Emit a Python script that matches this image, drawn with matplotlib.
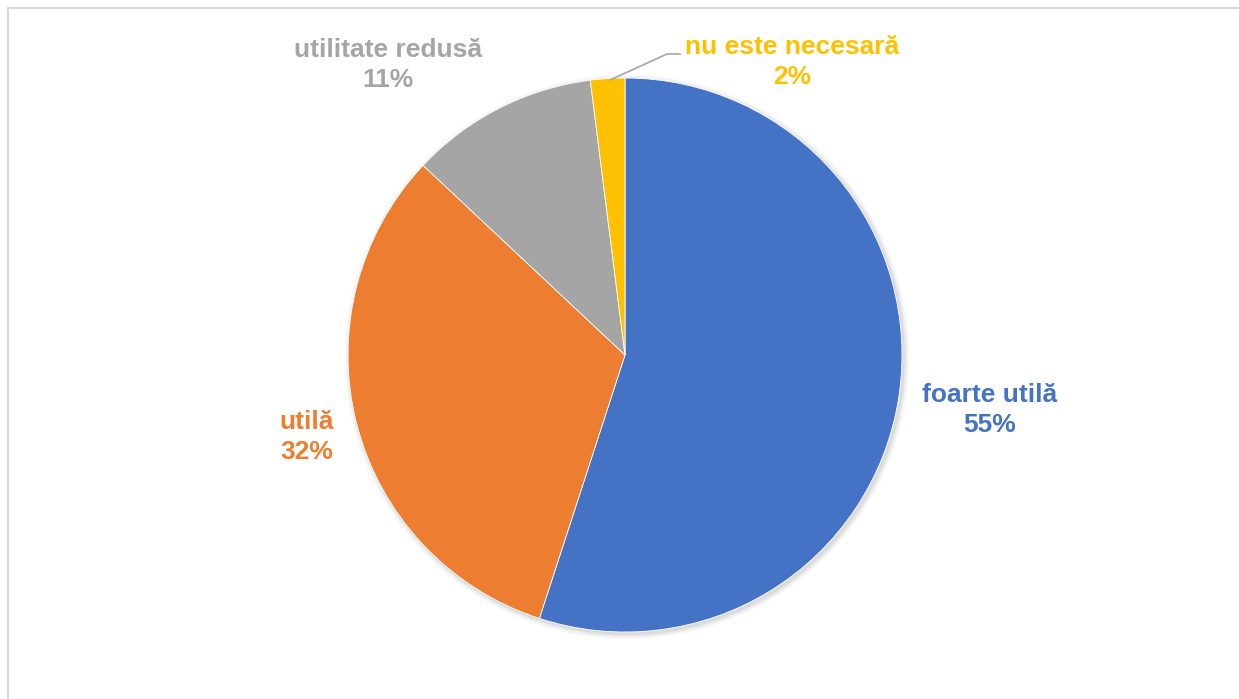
import matplotlib.pyplot as plt
from matplotlib.patches import Rectangle, Circle

labels = ['foarte utilă', 'utilă', 'utilitate redusă', 'nu este necesară']
values = [55, 32, 11, 2]
colors = ['#4472C4', '#ED7D31', '#A5A5A5', '#FFC000']

plt.rcParams['font.family'] = ['Liberation Sans', 'DejaVu Sans']

W, H = 1239, 699
fig = plt.figure(figsize=(W / 100, H / 100), dpi=100)
ax = fig.add_axes([0, 0, 1, 1])

cx, cy, r = 625, H - 355, 277

wedges, _ = ax.pie(values, colors=colors, startangle=90, counterclock=False,
                   center=(cx, cy), radius=r,
                   wedgeprops=dict(linewidth=0.6, edgecolor='white'))
for w in wedges:
    w.set_zorder(1)

# pie() resets the limits, so set the pixel-like frame afterwards
ax.set_xlim(0, W)
ax.set_ylim(0, H)
ax.set_aspect('equal')
ax.axis('off')

# soft shadow behind the pie
for i, a in enumerate([0.05, 0.04, 0.03, 0.02]):
    ax.add_patch(Circle((cx + 2, cy - 2), r + 1 + i * 1.5, color='#000000',
                        alpha=a, lw=0, zorder=0))

# label positions (pixel coords from top)
label_pos = [(990, 410), (307, 437), (388, 65), (792, 62)]
for lab, v, col, (px, py) in zip(labels, values, colors, label_pos):
    ax.text(px, H - py, f'{lab}\n{v}%', color=col, fontsize=19, fontweight='bold',
            ha='center', va='center', linespacing=1.32, zorder=3)

# leader line for the small slice
ax.plot([610, 667, 680], [H - 80, H - 54, H - 54], color='#A5A5A5', lw=1.2, zorder=2)

# chart border
ax.add_patch(Rectangle((7.5, -20), W + 20, H - 7.5 + 20, fill=False,
                       edgecolor='#D9D9D9', lw=1.5, zorder=4, clip_on=False))

fig.savefig('out.png', dpi=100)
